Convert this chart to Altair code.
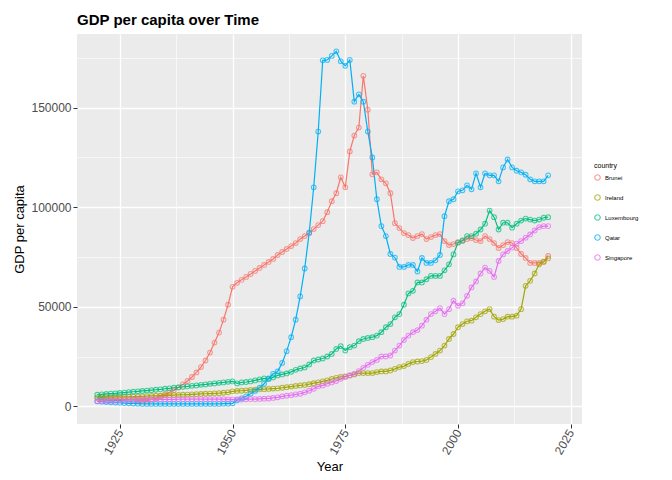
import altair as alt
import pandas as pd

years = list(range(1920, 2021))
countries = ["Brunei", "Ireland", "Luxembourg", "Qatar", "Singapore"]
colors = ["#F8766D", "#A3A500", "#00BF7D", "#00B0F6", "#E76BF3"]

brunei = [4000, 3900, 3800, 3700, 3600, 3500, 3400, 3300, 3200, 3000,
          2900, 2800, 3300, 4000, 5000, 6000, 7000, 8000, 9500, 11000,
          12700, 14700, 17000, 19700, 23000, 27000, 32000, 37000, 43500, 51000,
          60000, 62000, 63500, 65000, 66500, 68000, 69500, 71000, 72500, 74000,
          76000, 77500, 79000, 80500, 82000, 84000, 85500, 87000, 89000, 91000,
          93000, 97500, 103000, 107000, 115000,
          110000, 128000, 136000, 140000, 166000, 149000, 116500, 117500, 114000, 112000,
          107000, 92000, 89500, 87000, 86000, 84500, 85500, 86500, 84000, 85000,
          86000, 86500, 83000, 81000, 81500, 82500, 83000, 84000, 84500, 83500,
          83000, 85500, 84000, 82000, 79500, 81000, 82500, 82000, 79500, 76500,
          74500, 72000, 72000, 72000, 72500, 75500]
ireland = [4500, 4500, 4600, 4600, 4700, 4700, 4800, 4800, 4900, 5000,
           5000, 5100, 5200, 5300, 5400, 5500, 5500, 5600, 5700, 5800,
           5900, 6000, 6100, 6200, 6300, 6400, 6500, 6600, 6800, 7000,
           7500, 7700, 7800, 8000, 8200, 8400, 8500, 8600, 8700, 8900,
           9000, 9300, 9600, 9900, 10200, 10500, 10700, 11100, 11600, 12000,
           12500, 13000, 13700, 14300, 14700, 15000, 15500, 16000, 16700, 16700,
           16700, 16700, 17200, 17500, 17500, 18000, 18800, 19700, 20200, 21300,
           22200, 22500, 22700, 23300, 24700, 26300, 28000, 30500, 33800, 36300,
           39700, 41300, 42700, 43000, 44700, 46300, 47700, 48800, 45000, 43300,
           43800, 45000, 45000, 45500, 48800, 60500, 63000, 66700, 71300, 72700, 74300]
luxembourg = [5800, 6000, 6200, 6400, 6500, 6700, 6900, 7100, 7300, 7500,
              7700, 7900, 8100, 8300, 8500, 8800, 9000, 9300, 9500, 9800,
              10000, 10300, 10500, 10800, 11000, 11300, 11500, 11800, 12000, 12300,
              12500, 11500, 12000, 12200, 12500, 13000, 13500, 14000, 13700, 14500,
              15500, 16000, 16500, 17300, 18300, 19000, 19500, 21000, 23000, 23500,
              24000, 25000, 26300, 28800, 30200, 28000, 29700, 30500, 32700, 33800,
              34300, 34700, 35500, 37200, 39700, 41300, 44700, 46300, 51000, 56700,
              58000, 62200, 62200, 63800, 65500, 65500, 65500, 68300, 71300, 76300,
              82200, 83300, 85500, 85500, 86700, 88800, 91700, 98300, 95000, 88800,
              92200, 92200, 89700, 91700, 93300, 94300, 93800, 93300, 93800, 94700, 95000]
qatar = [2500, 2300, 2100, 2000, 1900, 1800, 1600, 1500, 1400, 1300,
         1200, 1200, 1200, 1200, 1200, 1200, 1200, 1200, 1200, 1200,
         1200, 1200, 1200, 1200, 1200, 1200, 1200, 1200, 1300, 1300,
         1500, 3000, 4000, 5000, 6300, 7700, 9300, 11300, 14000, 16300,
         17500, 21800, 27700, 34700, 43500, 55200, 69200, 87200, 110000, 138000,
         173800, 174000, 176000, 178300, 173300, 171000, 174000, 153000, 156700, 153000,
         138000, 125000, 104000, 90500, 85500, 76500, 74700, 70000, 70000, 71000,
         71000, 67700, 74500, 72000, 72000, 73300, 76000, 95500, 103000, 104000,
         108000, 108500, 111000, 109000, 117000, 110000, 117000, 116000, 116000, 113000,
         120000, 124000, 120000, 118300, 117500, 116300, 114000, 113000, 113000, 113000, 116000]
singapore = [2500, 2600, 2700, 2800, 2900, 3000, 3100, 3200, 3300, 3300,
             3400, 3400, 3500, 3500, 3500, 3500, 3500, 3500, 3600, 3600,
             3600, 3600, 3600, 3600, 3600, 3600, 3600, 3600, 3600, 3500,
             3500, 3400, 3400, 3500, 3600, 3600, 3700, 3800, 3900, 4200,
             4500, 5000, 5300, 5600, 6000, 6300, 7000, 7800, 8800, 10000,
             10500, 11300, 12000, 12700, 13800, 14700, 15500, 16300, 17700, 19300,
             20800, 22200, 23300, 25000, 25000, 25500, 28000, 30500, 33300, 35500,
             37200, 38300, 40500, 43500, 46300, 47700, 49300, 46300, 48800, 53000,
             50500, 51700, 55500, 59700, 62700, 66700, 69700, 68000, 65000, 73000,
             76300, 78000, 79700, 81700, 83000, 84700, 86300, 88300, 90000, 90500, 90500]

series = [brunei, ireland, luxembourg, qatar, singapore]
rows = []
for name, vals in zip(countries, series):
    for yr, v in zip(years, vals):
        rows.append({"Year": yr, "country": name, "gdp": v})
df = pd.DataFrame(rows)

x_vals = [1912.5, 1925, 1937.5, 1950, 1962.5, 1975, 1987.5, 2000, 2012.5, 2025]
y_vals = [0, 25000, 50000, 75000, 100000, 125000, 150000, 175000]

x_enc = alt.X("Year:Q", title="Year",
              scale=alt.Scale(domain=[1915.5, 2027.5], nice=False, zero=False),
              axis=alt.Axis(values=x_vals, labelAngle=300, labelAlign="right", labelBaseline="middle",
                            labelExpr="datum.value % 25 == 0 ? datum.value : ''",
                            gridWidth={"condition": {"test": "datum.value % 25 == 0", "value": 1.3}, "value": 0.6},
                            tickSize={"condition": {"test": "datum.value % 25 == 0", "value": 4}, "value": 0},
                            labelFlush=False, labelPadding=2))
y_enc = alt.Y("gdp:Q", title="GDP per capita",
              scale=alt.Scale(domain=[-8900, 187000], nice=False),
              axis=alt.Axis(values=y_vals, format="d",
                            labelExpr="datum.value % 50000 == 0 ? datum.value : ''",
                            gridWidth={"condition": {"test": "datum.value % 50000 == 0", "value": 1.3}, "value": 0.6},
                            tickSize={"condition": {"test": "datum.value % 50000 == 0", "value": 4}, "value": 0}))
color_enc = alt.Color("country:N", scale=alt.Scale(domain=countries, range=colors),
                      legend=alt.Legend(title="country", titleFontSize=7, labelFontSize=6,
                                        symbolType="circle", symbolFillColor="transparent",
                                        symbolSize=30, symbolStrokeWidth=1.2, rowPadding=9,
                                        orient="none", legendX=517, legendY=128,
                                        titleFontWeight="normal"))

base = alt.Chart(df).encode(x=x_enc, y=y_enc, color=color_enc)
lines = base.mark_line(strokeWidth=1.2)
points = base.mark_point(shape="circle", filled=False, size=22, strokeWidth=1.1)

chart = (
    alt.layer(lines, points)
    .properties(width=505, height=390,
                title=alt.Title("GDP per capita over Time", anchor="start", frame="group", fontSize=15,
                                fontWeight="bold", color="black", offset=6))
    .configure(font="Liberation Sans")
    .configure_view(fill="#EBEBEB", stroke=None)
    .configure_axis(gridColor="white", domain=False, tickColor="#333333",
                    labelColor="#4D4D4D", labelFontSize=12, titleFontSize=13,
                    titleFontWeight="normal", titleColor="black")
    .configure_legend(labelColor="black", titleColor="black")
)

chart.save("out.html", embed_options={"renderer": "svg", "actions": False})
